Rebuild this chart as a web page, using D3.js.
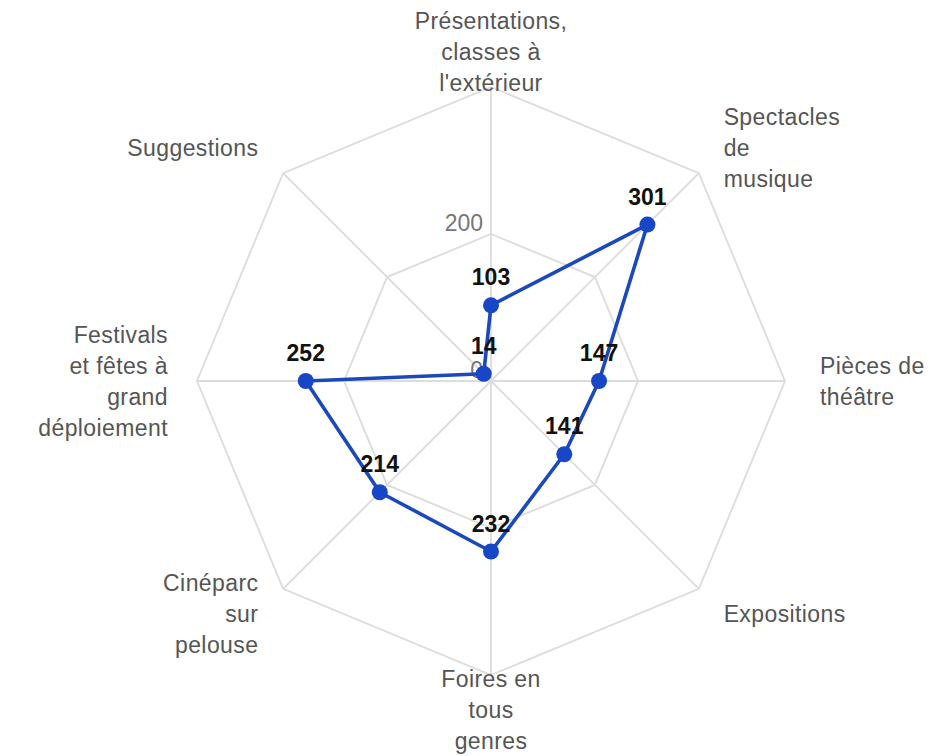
<!DOCTYPE html>
<html><head><meta charset="utf-8">
<script src="https://cdn.jsdelivr.net/npm/d3@7"></script>
<style>
html,body{margin:0;padding:0;background:#fff;}
svg{display:block;font-family:"Liberation Sans",Arial,Helvetica,sans-serif;}
</style></head>
<body><svg id="chart" width="938" height="756"></svg>
<script>
const categories = [
  ["Présentations,", "classes à", "l'extérieur"],
  ["Spectacles", "de", "musique"],
  ["Pièces de", "théâtre"],
  ["Expositions"],
  ["Foires en", "tous", "genres"],
  ["Cinéparc", "sur", "pelouse"],
  ["Festivals", "et fêtes à", "grand", "déploiement"],
  ["Suggestions"]
];
const values = [103, 301, 147, 141, 232, 214, 252, 14];
const gridLevels = [200, 400];
const tickLabels = [0, 200];

const svg = d3.select("#chart");
const cx = 491, cy = 381, R = 294;
const r = d3.scaleLinear().domain([0, 400]).range([0, R]);
const n = categories.length;
const ang = d3.scaleLinear().domain([0, n]).range([0, 2 * Math.PI]);
const pt = (i, rad) => [cx + rad * Math.sin(ang(i)), cy - rad * Math.cos(ang(i))];

const g = svg.append("g");
gridLevels.forEach(lv => {
  g.append("polygon")
    .attr("points", d3.range(n).map(i => pt(i, r(lv)).join(",")).join(" "))
    .attr("fill", "none").attr("stroke", "#dcdcdc").attr("stroke-width", 1.8);
});
d3.range(n).forEach(i => {
  const p = pt(i, R);
  g.append("line").attr("x1", cx).attr("y1", cy).attr("x2", p[0]).attr("y2", p[1])
    .attr("stroke", "#dcdcdc").attr("stroke-width", 1.8);
});
g.selectAll(".tick").data(tickLabels).enter().append("text")
  .attr("x", cx - 8).attr("y", d => cy - r(d) - 3)
  .attr("text-anchor", "end").attr("font-size", 23).attr("fill", "#777")
  .text(d => d);

const lh = 31;
categories.forEach((lines, i) => {
  const s = Math.sin(ang(i));
  const pad = s < -0.99 ? 29 : 35;
  const p = pt(i, R + pad);
  const anchor = s > 0.1 ? "start" : (s < -0.1 ? "end" : "middle");
  const t = g.append("text").attr("text-anchor", anchor).attr("font-size", 23)
    .attr("letter-spacing", 0.4).attr("fill", "#555");
  const y0 = p[1] - (lines.length - 1) * lh / 2;
  lines.forEach((ln, k) => {
    t.append("tspan").attr("x", p[0]).attr("y", y0 + k * lh).attr("dy", "0.35em").text(ln);
  });
});

const pts = values.map((v, i) => pt(i, r(v)));
g.append("path")
  .attr("d", d3.line().curve(d3.curveLinearClosed)(pts))
  .attr("fill", "none").attr("stroke", "#1b48bb").attr("stroke-width", 3.6)
  .attr("stroke-linejoin", "round");
g.selectAll(".pt").data(pts).enter().append("circle")
  .attr("cx", d => d[0]).attr("cy", d => d[1]).attr("r", 8)
  .attr("fill", "#1746c6");
g.selectAll(".val").data(values).enter().append("text")
  .attr("x", (d, i) => pts[i][0]).attr("y", (d, i) => pts[i][1] - 20)
  .attr("text-anchor", "middle").attr("font-size", 23).attr("font-weight", "bold")
  .attr("fill", "#111").text(d => d);
</script></body></html>
